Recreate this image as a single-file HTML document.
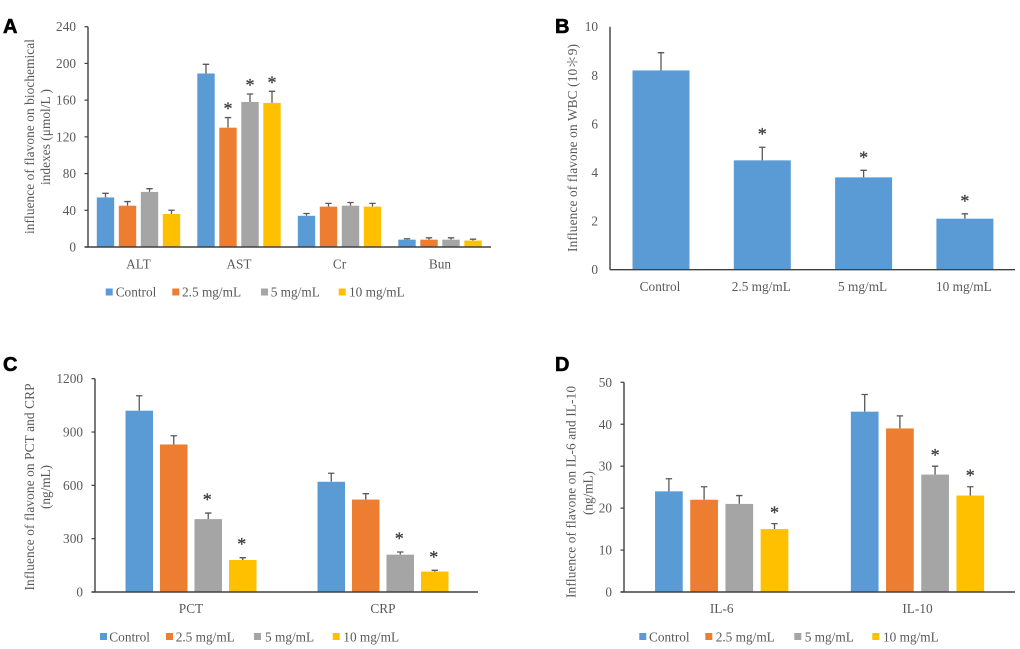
<!DOCTYPE html>
<html lang="en">
<head>
<meta charset="utf-8">
<title>Influence of flavone</title>
<style>
html,body{margin:0;padding:0;background:#fff;}
body{width:1020px;height:649px;overflow:hidden;}
svg{display:block;filter:blur(0.35px);font-family:"Liberation Serif","Noto Serif CJK SC",serif;}
.t{font-size:13.3px;fill:#595959;}
.l{font-family:"Liberation Sans",sans-serif;font-weight:bold;font-size:20px;fill:#000;stroke:#000;stroke-width:.6px;}
</style>
</head>
<body>
<svg id="figure" xmlns="http://www.w3.org/2000/svg" width="1020" height="649" viewBox="0 0 1020 649">
  <text class="l" x="3" y="33">A</text>
  <text class="l" x="555" y="33">B</text>
  <text class="l" x="3" y="371">C</text>
  <text class="l" x="555" y="371">D</text>

  <text class="t" text-anchor="middle" textLength="195" transform="translate(34,136.5) rotate(-90)">influence of flavone on biochemical</text>
  <text class="t" text-anchor="middle" textLength="96" transform="translate(50,137) rotate(-90)">indexes (μmol/L )</text>
  <text class="t" text-anchor="middle" textLength="208" transform="translate(577,148) rotate(-90)">Influence of flavone on WBC (10＊9)</text>
  <text class="t" text-anchor="middle" textLength="207" transform="translate(34,487) rotate(-90)">Influence of flavone on PCT and CRP</text>
  <text class="t" text-anchor="middle" textLength="44" transform="translate(50,487) rotate(-90)">(ng/mL)</text>
  <text class="t" text-anchor="middle" textLength="212" transform="translate(575.5,492) rotate(-90)">Influence of flavone on IL-6 and IL-10</text>
  <text class="t" text-anchor="middle" textLength="44" transform="translate(592.5,493) rotate(-90)">(ng/mL)</text>

  <g>
    <g><rect x="105.7" y="288.5" width="7" height="7" fill="#5B9BD5"/><text class="t" x="115.7" y="296.5">Control</text></g>
    <g><rect x="172.3" y="288.5" width="7" height="7" fill="#ED7D31"/><text class="t" x="182" y="296.5">2.5 mg/mL</text></g>
    <g><rect x="261" y="288.5" width="7" height="7" fill="#A5A5A5"/><text class="t" x="270.7" y="296.5">5 mg/mL</text></g>
    <g><rect x="338.7" y="288.5" width="7" height="7" fill="#FFC000"/><text class="t" x="349" y="296.5">10 mg/mL</text></g>
  </g>
  <g>
    <g><rect x="100" y="633" width="7" height="7" fill="#5B9BD5"/><text class="t" x="109.3" y="641.5">Control</text></g>
    <g><rect x="166" y="633" width="7" height="7" fill="#ED7D31"/><text class="t" x="175.7" y="641.5">2.5 mg/mL</text></g>
    <g><rect x="254" y="633" width="7" height="7" fill="#A5A5A5"/><text class="t" x="265" y="641.5">5 mg/mL</text></g>
    <g><rect x="332.7" y="633" width="7" height="7" fill="#FFC000"/><text class="t" x="343.3" y="641.5">10 mg/mL</text></g>
  </g>
  <g>
    <g><rect x="639.3" y="633" width="7" height="7" fill="#5B9BD5"/><text class="t" x="649" y="641.5">Control</text></g>
    <g><rect x="705.3" y="633" width="7" height="7" fill="#ED7D31"/><text class="t" x="715.7" y="641.5">2.5 mg/mL</text></g>
    <g><rect x="794.3" y="633" width="7" height="7" fill="#A5A5A5"/><text class="t" x="804.7" y="641.5">5 mg/mL</text></g>
    <g><rect x="872.3" y="633" width="7" height="7" fill="#FFC000"/><text class="t" x="883" y="641.5">10 mg/mL</text></g>
  </g>
</svg>
<script>
// Panel A
const aCategories = ["ALT", "AST", "Cr", "Bun"];
const aTicks = [0, 40, 80, 120, 160, 200, 240];
const aControl = [54, 189, 34, 8];
const a25 = [45, 130, 44, 8];
const a5 = [60, 158, 45, 8];
const a10 = [36, 157, 44, 7];
const aControlErr = [4.5, 10, 2.5, 1];
const a25Err = [4.5, 11, 3.5, 2];
const a5Err = [3.5, 8.7, 3.5, 2];
const a10Err = [4, 12.6, 3.5, 1.5];
const aControlSig = [0, 0, 0, 0];
const a25Sig = [0, 1, 0, 0];
const a5Sig = [0, 1, 0, 0];
const a10Sig = [0, 1, 0, 0];

// Panel B
const bCategories = ["Control", "2.5 mg/mL", "5 mg/mL", "10 mg/mL"];
const bTicks = [0, 2, 4, 6, 8, 10];
const bValues = [8.2, 4.5, 3.8, 2.1];
const bErr = [0.73, 0.54, 0.29, 0.2];
const bSig = [0, 1, 1, 1];

// Panel C
const cCategories = ["PCT", "CRP"];
const cTicks = [0, 300, 600, 900, 1200];
const cControl = [1020, 620];
const c25 = [830, 520];
const c5 = [410, 210];
const c10 = [180, 115];
const cControlErr = [84, 48];
const c25Err = [49, 33];
const c5Err = [34, 15];
const c10Err = [13, 7];
const cControlSig = [0, 0];
const c25Sig = [0, 0];
const c5Sig = [1, 1];
const c10Sig = [1, 1];

// Panel D
const dCategories = ["IL-6", "IL-10"];
const dTicks = [0, 10, 20, 30, 40, 50];
const dControl = [24, 43];
const d25 = [22, 39];
const d5 = [21, 28];
const d10 = [15, 23];
const dControlErr = [3, 4.1];
const d25Err = [3.1, 3];
const d5Err = [2, 2];
const d10Err = [1.3, 2.1];
const dControlSig = [0, 0];
const d25Sig = [0, 0];
const d5Sig = [0, 1];
const d10Sig = [1, 1];

const seriesNames = ["control", "2-5-mg-ml", "5-mg-ml", "10-mg-ml"];
const seriesColors = ["#5B9BD5", "#ED7D31", "#A5A5A5", "#FFC000"];

const SVG_NS = "http://www.w3.org/2000/svg";
const figure = document.getElementById("figure");

function make(parent, tag, props) {
  const el = document.createElementNS(SVG_NS, tag);
  for (const k in props) el.setAttribute(k, props[k]);
  parent.appendChild(el);
  return el;
}

function drawPanel(p) {
  const maxTick = p.ticks[p.ticks.length - 1];
  const yScale = function (v) { return p.baseY - (v / maxTick) * (p.baseY - p.topY); };
  const groupCenter = function (g) { return p.firstCenter + g * p.step; };
  const barCenter = function (g, s) { return groupCenter(g) + (s - (p.series.length - 1) / 2) * p.pitch; };

  const panel = make(figure, "g", {});
  
  

  p.series.forEach(function (series, s) {
    series.values.forEach(function (value, g) {
      const cx = barCenter(g, s);
      const barY = yScale(value);
      const capY = yScale(value + series.err[g]);
      const color = p.barColor || seriesColors[s];

      const errLine = make(panel, "path", {
        d: "M" + cx + " " + barY + "V" + capY + "M" + (cx - 3.2) + " " + capY + "H" + (cx + 3.2),
        stroke: "#595959", "stroke-width": 1.3, fill: "none"
      });
      
      

      const bar = make(panel, "rect", {
        x: cx - p.barWidth / 2, y: barY, width: p.barWidth, height: p.baseY - barY, fill: color
      });
      
      

      if (series.sig[g]) {
        const star = make(panel, "text", {
          x: cx + p.starShift, y: capY - p.starGap + 8.5, "text-anchor": "middle",
          "font-size": 18, fill: "#404040", stroke: "#404040", "stroke-width": 0.3
        });
        star.textContent = "*";
        
        
      }
    });
  });

  const yAxis = make(panel, "path", {
    d: "M" + p.axisX + " " + p.topY + "V" + p.baseY, stroke: "#404040", "stroke-width": 1.4, fill: "none"
  });
  
  

  const xAxis = make(panel, "path", {
    d: "M" + (p.axisX - p.tickLen) + " " + p.baseY + "H" + p.axisEnd, stroke: "#404040", "stroke-width": 1.4, fill: "none"
  });
  
  

  p.ticks.forEach(function (tick) {
    const y = yScale(tick);
    const mark = make(panel, "path", {
      d: "M" + (p.axisX - p.tickLen) + " " + y + "H" + p.axisX, stroke: "#404040", "stroke-width": 1.2, fill: "none"
    });
    
    

    const label = make(panel, "text", {
      class: "t", x: p.tickRight, y: y, dy: "0.34em", "text-anchor": "end"
    });
    label.textContent = String(tick);
    
    
  });

  p.categories.forEach(function (category, g) {
    const label = make(panel, "text", {
      class: "t", x: groupCenter(g) + p.catShift, y: p.catY, dy: "0.34em", "text-anchor": "middle"
    });
    label.textContent = category;
    
    
  });
}

drawPanel({
  id: "a", categories: aCategories, ticks: aTicks,
  series: [
    { values: aControl, err: aControlErr, sig: aControlSig },
    { values: a25, err: a25Err, sig: a25Sig },
    { values: a5, err: a5Err, sig: a5Sig },
    { values: a10, err: a10Err, sig: a10Sig }
  ],
  axisX: 88, axisEnd: 491, topY: 26.7, baseY: 247, tickLen: 3.5, tickRight: 76,
  firstCenter: 138.5, step: 100.5, pitch: 22, barWidth: 17.4,
  starGap: 11.5, starShift: 0, catY: 264, catShift: 0
});
drawPanel({
  id: "b", categories: bCategories, ticks: bTicks,
  series: [{ values: bValues, err: bErr, sig: bSig }],
  axisX: 610, axisEnd: 1015, topY: 26.7, baseY: 269.7, tickLen: 0, tickRight: 598,
  firstCenter: 661, step: 101.3, pitch: 0, barWidth: 57, barColor: "#5B9BD5",
  starGap: 15.5, starShift: 0, catY: 286.7, catShift: -1
});
drawPanel({
  id: "c", categories: cCategories, ticks: cTicks,
  series: [
    { values: cControl, err: cControlErr, sig: cControlSig },
    { values: c25, err: c25Err, sig: c25Sig },
    { values: c5, err: c5Err, sig: c5Sig },
    { values: c10, err: c10Err, sig: c10Sig }
  ],
  axisX: 95, axisEnd: 478, topY: 378.7, baseY: 592, tickLen: 3.5, tickRight: 83,
  firstCenter: 191, step: 192, pitch: 34.5, barWidth: 27.5,
  starGap: 16, starShift: -1, catY: 608.7, catShift: 0
});
drawPanel({
  id: "d", categories: dCategories, ticks: dTicks,
  series: [
    { values: dControl, err: dControlErr, sig: dControlSig },
    { values: d25, err: d25Err, sig: d25Sig },
    { values: d5, err: d5Err, sig: d5Sig },
    { values: d10, err: d10Err, sig: d10Sig }
  ],
  axisX: 624, axisEnd: 1015, topY: 382.3, baseY: 592, tickLen: 3.5, tickRight: 612,
  firstCenter: 721.7, step: 195.8, pitch: 35.2, barWidth: 27.7,
  starGap: 13.5, starShift: 0, catY: 608.7, catShift: 0
});
</script>
</body>
</html>
